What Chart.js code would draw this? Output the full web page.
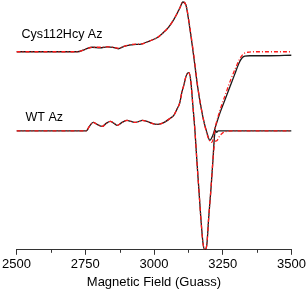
<!DOCTYPE html>
<html>
<head>
<meta charset="utf-8">
<script src="https://cdn.jsdelivr.net/npm/chart.js@4/dist/chart.umd.min.js"></script>
<style>
  html, body { margin: 0; padding: 0; background: #fff; }
  #wrap { width: 308px; height: 291px; }
</style>
</head>
<body>
<div id="wrap"><canvas id="epr"></canvas></div>
<script>
// field axis
const majorTicks = [2500, 2750, 3000, 3250, 3500];
const minorTicks = [2625, 2875, 3125, 3375];
const seriesNames = ['Cys112Hcy Az', 'WT Az'];

// Cys112Hcy Az, experiment (black) and simulation (red), relative to baseline
const hcyField = [2500, 2696, 2721, 2750, 2775, 2804, 2830, 2851, 2870, 2891, 2920, 2957, 2985, 3011, 3033, 3051, 3069, 3083, 3094, 3105,
  3116, 3130, 3145, 3159, 3178, 3192, 3203, 3214, 3225, 3239, 3257, 3275, 3293, 3308, 3319, 3330, 3348, 3420, 3500];
const hcyBlack = [0, 0, 0, 2.5, 4.5, 4, 5, 4.5, 3, 5.5, 7, 8, 11, 14, 19, 24, 31, 38, 44, 50,
  47, 24, -6, -36, -66, -81, -89, -84, -74, -62, -49, -36, -23, -12, -6.5, -4.5, -4, -4, -3.5];
const hcyRedField = [2500, 2696, 2721, 2750, 2775, 2804, 2830, 2851, 2870, 2891, 2920, 2957, 2985, 3011, 3033, 3051, 3069, 3083, 3094, 3105,
  3116, 3130, 3145, 3159, 3178, 3192, 3203, 3210, 3225, 3243, 3261, 3279, 3297, 3312, 3326, 3341, 3360, 3500];
const hcyRed = [0, 0, 0, 2.5, 4.5, 4.5, 5, 4.5, 3.5, 5.5, 7.5, 8, 11, 14, 19, 24, 31, 38, 44, 50,
  47, 25, -4, -35, -66, -82, -90, -91, -73, -56, -42, -28, -16, -7, -2, -0.5, 0, 0];

// WT Az
const wtField = [2500, 2754, 2765, 2779, 2793, 2812, 2826, 2841, 2855, 2866, 2884, 2902, 2917, 2931, 2946, 2957, 2975, 2993, 3011, 3029,
  3043, 3058, 3072, 3083, 3094, 3101, 3109, 3116, 3122, 3127, 3134, 3141, 3149, 3156, 3163, 3170, 3178, 3185, 3192, 3199,
  3207, 3214, 3219, 3223, 3228, 3233, 3500];
const wtBlack = [0, 0, 4.5, 8.5, 6.5, 4.5, 7.5, 9.5, 7.5, 5.5, 8.5, 10.5, 9.5, 8.5, 9.5, 10.5, 9.5, 7.5, 6.5, 7.5,
  9.5, 12.5, 15.5, 21.5, 28.5, 38.5, 46.5, 54.5, 58, 58.5, 49.5, 26.5, -0.5, -30.5, -58.5, -86.5, -112.5, -119.5, -114.5, -86.5,
  -58.5, -30.5, -8.5, 0.5, -1.5, 0, 0];
const wtRedField = [2500, 2754, 2765, 2779, 2793, 2812, 2826, 2841, 2855, 2866, 2884, 2902, 2917, 2931, 2946, 2957, 2975, 2993, 3011, 3029,
  3043, 3058, 3072, 3083, 3094, 3101, 3109, 3116, 3122, 3127, 3134, 3141, 3149, 3156, 3163, 3170, 3178, 3185, 3192, 3199,
  3207, 3214, 3217, 3221, 3228, 3239, 3250, 3264, 3283, 3500];
const wtRed = [0, 0, 4.5, 8.5, 6.5, 4.5, 7.5, 9.5, 7.5, 5.5, 8.5, 10.5, 9.5, 8.5, 9.5, 10.5, 9.5, 7.5, 6.5, 7.5,
  9.5, 12.5, 15.5, 21.5, 28.5, 38.5, 46.5, 54.5, 58, 58.5, 49.5, 26.5, -0.5, -30.5, -58.5, -86.5, -112.5, -119.5, -114.5, -86.5,
  -58.5, -30.5, -20, -11, -10, -5, -2, -0.5, 0, 0];

const HCY_OFFSET = 199;
const WT_OFFSET = 119.5;

function pts(xs, ys, off) {
  return xs.map((x, i) => ({ x: x, y: ys[i] + off }));
}

function line(data, red) {
  return {
    data,
    borderColor: red ? '#ff1a1a' : '#1a1a1a',
    borderWidth: 1.3,
    borderDash: red ? [4, 2, 1, 2] : [],
    pointRadius: 0,
    cubicInterpolationMode: 'monotone',
    fill: false
  };
}

const font = { family: '"Liberation Sans", Arial, sans-serif', size: 13 };

const extras = {
  id: 'extras',
  afterDraw(chart) {
    const c = chart.ctx, xs = chart.scales.x, ys = chart.scales.y;
    c.save();
    c.strokeStyle = '#333';
    c.lineWidth = 1;
    minorTicks.forEach(v => {
      const px = Math.round(xs.getPixelForValue(v)) + 0.5;
      c.beginPath();
      c.moveTo(px, xs.top);
      c.lineTo(px, xs.top + 3);
      c.stroke();
    });
    c.fillStyle = '#000';
    c.font = '12.5px "Liberation Sans", Arial, sans-serif';
    c.textBaseline = 'middle';
    c.fillText(seriesNames[0], xs.getPixelForValue(2518), ys.getPixelForValue(216));
    c.fillText(seriesNames[1], xs.getPixelForValue(2533), ys.getPixelForValue(133));
    c.restore();
  }
};

new Chart(document.getElementById('epr'), {
  type: 'line',
  data: {
    datasets: [
      line(pts(hcyRedField, hcyRed, HCY_OFFSET), true),
      line(pts(wtRedField, wtRed, WT_OFFSET), true),
      line(pts(hcyField, hcyBlack, HCY_OFFSET), false),
      line(pts(wtField, wtBlack, WT_OFFSET), false)
    ]
  },
  options: {
    responsive: true,
    maintainAspectRatio: false,
    animation: false,
    layout: { padding: { left: 16, right: 16, top: 0, bottom: 0 } },
    plugins: { legend: { display: false }, tooltip: { enabled: false } },
    scales: {
      x: {
        type: 'linear',
        min: 2500,
        max: 3500,
        afterBuildTicks: s => { s.ticks = majorTicks.map(v => ({ value: v })); },
        ticks: { color: '#000', font, padding: 2, maxRotation: 0, callback: v => String(v) },
        grid: { drawOnChartArea: false, tickLength: 5, color: '#333' },
        border: { display: true, color: '#333', width: 1 },
        title: { display: true, text: 'Magnetic Field (Guass)', color: '#000', font, padding: { top: 0, bottom: 1 } }
      },
      y: { display: false, min: 0, max: 251 }
    }
  },
  plugins: [extras]
});
</script>
</body>
</html>
